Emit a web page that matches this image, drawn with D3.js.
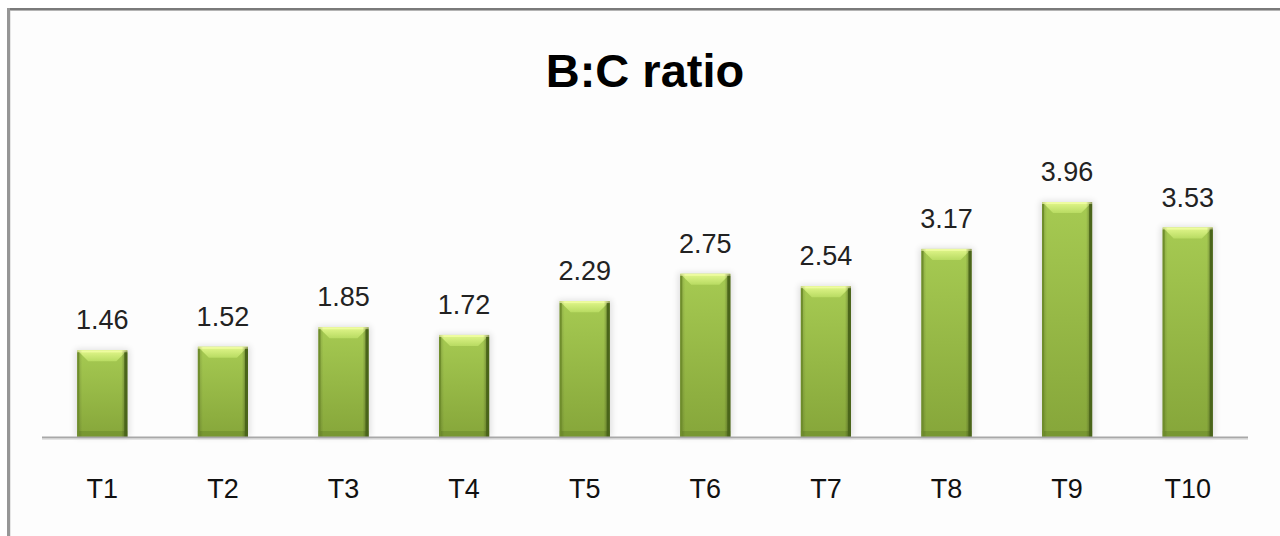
<!DOCTYPE html>
<html><head><meta charset="utf-8">
<script src="https://cdn.jsdelivr.net/npm/d3@7"></script>
<style>html,body{margin:0;padding:0;background:#fff;}svg{display:block;}</style>
</head><body>
<script>
const categories = ["T1","T2","T3","T4","T5","T6","T7","T8","T9","T10"];
const values = [1.46,1.52,1.85,1.72,2.29,2.75,2.54,3.17,3.96,3.53];
const valueLabels = ["1.46","1.52","1.85","1.72","2.29","2.75","2.54","3.17","3.96","3.53"];
const title = "B:C ratio";

(function(){
const W = 1280, H = 536;
const svg = d3.select("body").append("svg").attr("width", W).attr("height", H);
const defs = svg.append("defs");

// chart area background + border
svg.append("rect").attr("x", 8).attr("y", 8).attr("width", W).attr("height", H).attr("fill", "#fdfdfd");
svg.append("line").attr("x1", 8).attr("x2", W).attr("y1", 9).attr("y2", 9).attr("stroke", "#7a7a7a").attr("stroke-width", 2);
svg.append("line").attr("x1", 8).attr("x2", W).attr("y1", 10.5).attr("y2", 10.5).attr("stroke", "#b4b4b4").attr("stroke-width", 1);
svg.append("line").attr("x1", 8.5).attr("x2", 8.5).attr("y1", 8).attr("y2", H).attr("stroke", "#969696").attr("stroke-width", 3);
svg.append("line").attr("x1", 10.5).attr("x2", 10.5).attr("y1", 11).attr("y2", H).attr("stroke", "#e6e6e6").attr("stroke-width", 1);

// gradients
const gb = defs.append("linearGradient").attr("id", "gBody").attr("x1", 0).attr("y1", 0).attr("x2", 0).attr("y2", 1);
gb.append("stop").attr("offset", "0%").attr("stop-color", "#a6ca52");
gb.append("stop").attr("offset", "100%").attr("stop-color", "#86a63a");
const gs = defs.append("linearGradient").attr("id", "gSide").attr("x1", 0).attr("y1", 0).attr("x2", 1).attr("y2", 0);
gs.append("stop").attr("offset", "0%").attr("stop-color", "#000").attr("stop-opacity", 0.18);
gs.append("stop").attr("offset", "10%").attr("stop-color", "#000").attr("stop-opacity", 0.0);
gs.append("stop").attr("offset", "88%").attr("stop-color", "#000").attr("stop-opacity", 0.0);
gs.append("stop").attr("offset", "100%").attr("stop-color", "#000").attr("stop-opacity", 0.4);
const gt = defs.append("linearGradient").attr("id", "gTop").attr("x1", 0).attr("y1", 0).attr("x2", 0).attr("y2", 1);
gt.append("stop").attr("offset", "0%").attr("stop-color", "#e2f78c");
gt.append("stop").attr("offset", "100%").attr("stop-color", "#b8db62");
const blur = defs.append("filter").attr("id", "shadow").attr("x", "-30%").attr("y", "-10%").attr("width", "160%").attr("height", "120%");
blur.append("feGaussianBlur").attr("stdDeviation", 3);

// scales
const x = d3.scaleBand().domain(categories).range([42, 1248]).paddingInner(0.585).paddingOuter(0.2925);
const y = d3.scaleLinear().domain([0, 4.5]).range([437, 170]);

// title
svg.append("text").attr("x", 645).attr("y", 87).attr("text-anchor", "middle")
  .attr("font-family", "Liberation Sans, Arial, sans-serif").attr("font-weight", "bold")
  .attr("font-size", 47).attr("fill", "#000").text(title);

const g = svg.append("g");
const bars = g.selectAll("g.bar").data(values).enter().append("g").attr("class", "bar");

bars.append("rect")
  .attr("x", (d, i) => x(categories[i]) - 2).attr("y", d => y(d) - 1)
  .attr("width", x.bandwidth() + 4).attr("height", d => y(0) - y(d) + 1)
  .attr("fill", "#000").attr("opacity", 0.12).attr("filter", "url(#shadow)");
bars.append("rect")
  .attr("x", (d, i) => x(categories[i])).attr("y", d => y(d))
  .attr("width", x.bandwidth()).attr("height", d => y(0) - y(d))
  .attr("fill", "url(#gBody)");
bars.append("rect")
  .attr("x", (d, i) => x(categories[i])).attr("y", y(0) - 6)
  .attr("width", x.bandwidth()).attr("height", 6)
  .attr("fill", "#5d7a22").attr("opacity", 0.35);
bars.append("path")
  .attr("d", (d, i) => {
    const x0 = x(categories[i]), x1 = x0 + x.bandwidth(), t = y(d), b = 11;
    return `M${x0},${t}L${x1},${t}L${x1 - b},${t + b}L${x0 + b},${t + b}Z`;
  })
  .attr("fill", "url(#gTop)");
bars.append("rect")
  .attr("x", (d, i) => x(categories[i])).attr("y", d => y(d))
  .attr("width", x.bandwidth()).attr("height", 2).attr("fill", "#eefca0");
bars.append("rect")
  .attr("x", (d, i) => x(categories[i])).attr("y", d => y(d))
  .attr("width", x.bandwidth()).attr("height", d => y(0) - y(d))
  .attr("fill", "url(#gSide)");
bars.append("rect")
  .attr("x", (d, i) => x(categories[i]) + x.bandwidth() - 3).attr("y", d => y(d) + 2)
  .attr("width", 3).attr("height", d => y(0) - y(d) - 2)
  .attr("fill", "#4a651a");
bars.append("rect")
  .attr("x", (d, i) => x(categories[i])).attr("y", d => y(d) + 2)
  .attr("width", 2).attr("height", d => y(0) - y(d) - 2)
  .attr("fill", "#6f8d2c");

// axis line
svg.append("line").attr("x1", 42).attr("x2", 1248).attr("y1", 437.5).attr("y2", 437.5)
  .attr("stroke", "#a8a8a8").attr("stroke-width", 2);
svg.append("line").attr("x1", 42).attr("x2", 1248).attr("y1", 439.5).attr("y2", 439.5)
  .attr("stroke", "#e4e4e4").attr("stroke-width", 1);

g.selectAll("text.val").data(values).enter().append("text").attr("class", "val")
  .attr("x", (d, i) => x(categories[i]) + x.bandwidth() / 2)
  .attr("y", d => y(d) - 21)
  .attr("text-anchor", "middle")
  .attr("font-family", "Liberation Sans, Arial, sans-serif").attr("font-size", 27)
  .attr("fill", "#222").text((d, i) => valueLabels[i]);

g.selectAll("text.cat").data(categories).enter().append("text").attr("class", "cat")
  .attr("x", d => x(d) + x.bandwidth() / 2)
  .attr("y", 498)
  .attr("text-anchor", "middle")
  .attr("font-family", "Liberation Sans, Arial, sans-serif").attr("font-size", 27)
  .attr("fill", "#111").text(d => d);
})();
</script>
</body></html>
